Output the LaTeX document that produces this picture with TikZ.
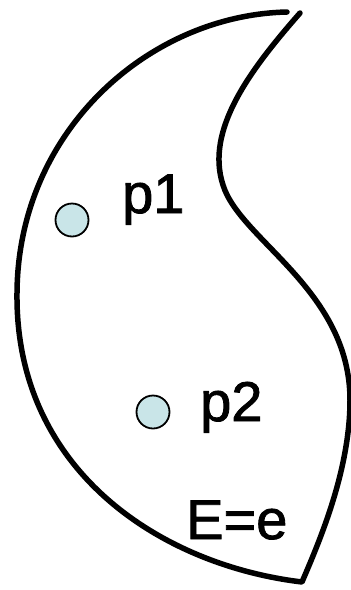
\documentclass[tikz,border=0pt]{standalone}
\usepackage{fontspec}
\setmainfont{Liberation Sans}
\newfontfamily\lblfont[FakeBold=1.5]{Liberation Sans}
\usepackage{xcolor,tikz}
\usetikzlibrary{positioning}
\definecolor{dotfill}{HTML}{C9E5E8}
\tikzset{region/.style={line width=5.5pt,line cap=round,line join=round},
  pdot/.style={circle,draw=black,line width=1.8pt,fill=dotfill,minimum size=33pt,inner sep=0pt},
  lbl/.style={inner sep=0pt,anchor=base west,font=\lblfont\fontsize{56}{60}\selectfont}}
\begin{document}
\begin{tikzpicture}[x=1pt,y=-1pt]
\useasboundingbox (0,0) rectangle (351,590);
% region outline, open at the top
\coordinate (top in) at (300,13);
\coordinate (neck) at (223,185);
\coordinate (bulge) at (350,400);
\coordinate (tip) at (302,582);
\coordinate (left) at (17,293);
\coordinate (top out) at (287,12);
\draw[region] (top in) .. controls (250,70) and (205,130) .. (neck)
  .. controls (240,240) and (350,290) .. (bulge)
  .. controls (350,470) and (320,540) .. (tip)
  .. controls (160,565) and (15,470) .. (left)
  .. controls (18,130) and (150,15) .. (top out);
\node[pdot] (p1) at (72,220) {};
\node[pdot] (p2) at (153,412) {};
\node[lbl] (p1lbl) at (122,213) {p1};
\node[lbl] (p2lbl) at (200,421) {p2};
\node[lbl] (elbl) at (186,539) {E=e};
\end{tikzpicture}
\end{document}
